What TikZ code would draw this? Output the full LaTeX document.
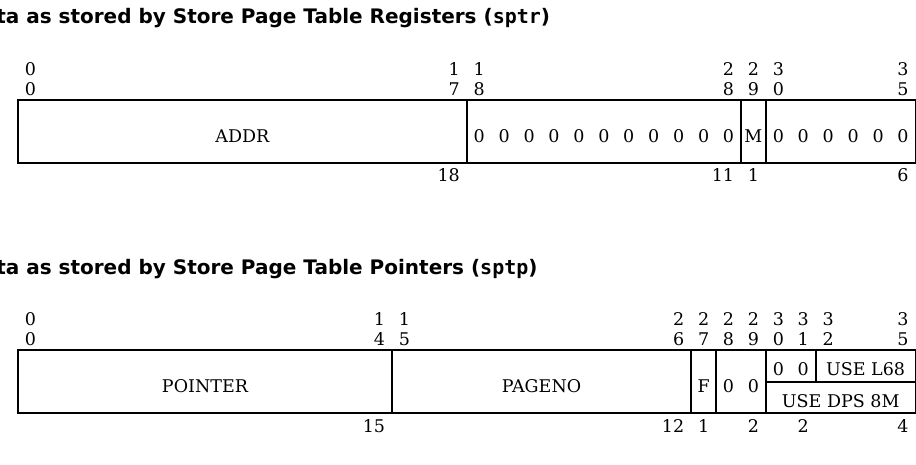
\documentclass[tikz,border=0pt]{standalone}
\usepackage{fontspec}
\setmainfont{DejaVu Serif}
\newfontfamily\titlefont{DejaVu Sans}
\newfontfamily\titlemono{DejaVu Sans Mono}
\usetikzlibrary{positioning}

% left edge of bit #1 (36 bits across the word)
\newcommand{\bitx}[1]{18+(#1)*24.93}
% width label: last digit sits under the last bit of the field
\newcommand{\wid}[2]{\llap{#1}#2}

\begin{document}
\begin{tikzpicture}[x=1pt, y=-1pt, font=\fontsize{17.5}{20}\selectfont,
  num/.style={inner sep=0pt, anchor=base},
  ttl/.style={inner sep=0pt, anchor=base west,
              font=\fontsize{20}{23}\selectfont\titlefont\bfseries},
  reg/.style={line width=1.6pt}]
  \useasboundingbox (0,0) rectangle (916,464);
  \clip (0,0) rectangle (916,464);

  % ---- sptr ----
  \node[ttl] (ttlr) at (-34,23)
    {Data as stored by Store Page Table Registers ({\titlemono\bfseries sptr})};
  \draw[reg] ({\bitx{0}},100) rectangle ({\bitx{36}},163);
  \foreach \b in {18,29,30}
    \draw[reg] ({\bitx{\b}},100) -- ({\bitx{\b}},163);
  \foreach \b/\hi/\lo in {0/0/0, 17/1/7, 18/1/8, 28/2/8, 29/2/9, 30/3/0, 35/3/5} {
    \node[num] (rhi\b) at ({\bitx{\b+0.5}},75.5) {\hi};
    \node[num] (rlo\b) at ({\bitx{\b+0.5}},95.5) {\lo};
  }
  \node[num] (addr) at ({(\bitx{0}+\bitx{18})/2},142) {ADDR};
  \foreach \b in {18,...,28}
    \node[num] (rz\b) at ({\bitx{\b+0.5}},142) {0};
  \node[num] (mbit) at ({\bitx{29.5}},142) {M};
  \foreach \b in {30,...,35}
    \node[num] (rz\b) at ({\bitx{\b+0.5}},142) {0};
  \node[num] (rw1) at ({\bitx{17.5}},181) {\wid{1}{8}};
  \node[num] (rw2) at ({\bitx{28.5}},181) {\wid{1}{1}};
  \node[num] (rw3) at ({\bitx{29.5}},181) {1};
  \node[num] (rw4) at ({\bitx{35.5}},181) {6};

  % ---- sptp ----
  \node[ttl] (ttlp) at (-34,274)
    {Data as stored by Store Page Table Pointers ({\titlemono\bfseries sptp})};
  \draw[reg] ({\bitx{0}},350) rectangle ({\bitx{36}},413);
  \foreach \b in {15,27,28,30}
    \draw[reg] ({\bitx{\b}},350) -- ({\bitx{\b}},413);
  \draw[reg] ({\bitx{30}},382) -- ({\bitx{36}},382);
  \draw[reg] ({\bitx{32}},350) -- ({\bitx{32}},382);
  \foreach \b/\hi/\lo in {0/0/0, 14/1/4, 15/1/5, 26/2/6, 27/2/7, 28/2/8,
                          29/2/9, 30/3/0, 31/3/1, 32/3/2, 35/3/5} {
    \node[num] (phi\b) at ({\bitx{\b+0.5}},325.5) {\hi};
    \node[num] (plo\b) at ({\bitx{\b+0.5}},345.5) {\lo};
  }
  \node[num] (pointer) at ({(\bitx{0}+\bitx{15})/2},392) {POINTER};
  \node[num] (pageno) at ({(\bitx{15}+\bitx{27})/2},392) {PAGENO};
  \node[num] (fbit) at ({\bitx{27.5}},392) {F};
  \node[num] (pz28) at ({\bitx{28.5}},392) {0};
  \node[num] (pz29) at ({\bitx{29.5}},392) {0};
  \node[num] (pz30) at ({\bitx{30.5}},375) {0};
  \node[num] (pz31) at ({\bitx{31.5}},375) {0};
  \node[num] (usel) at ({(\bitx{32}+\bitx{36})/2},375) {USE L68};
  \node[num] (used) at ({(\bitx{30}+\bitx{36})/2},407) {USE DPS 8M};
  \node[num] (pw1) at ({\bitx{14.5}},432) {\wid{1}{5}};
  \node[num] (pw2) at ({\bitx{26.5}},432) {\wid{1}{2}};
  \node[num] (pw3) at ({\bitx{27.5}},432) {1};
  \node[num] (pw4) at ({\bitx{29.5}},432) {2};
  \node[num] (pw5) at ({\bitx{31.5}},432) {2};
  \node[num] (pw6) at ({\bitx{35.5}},432) {4};
\end{tikzpicture}
\end{document}
